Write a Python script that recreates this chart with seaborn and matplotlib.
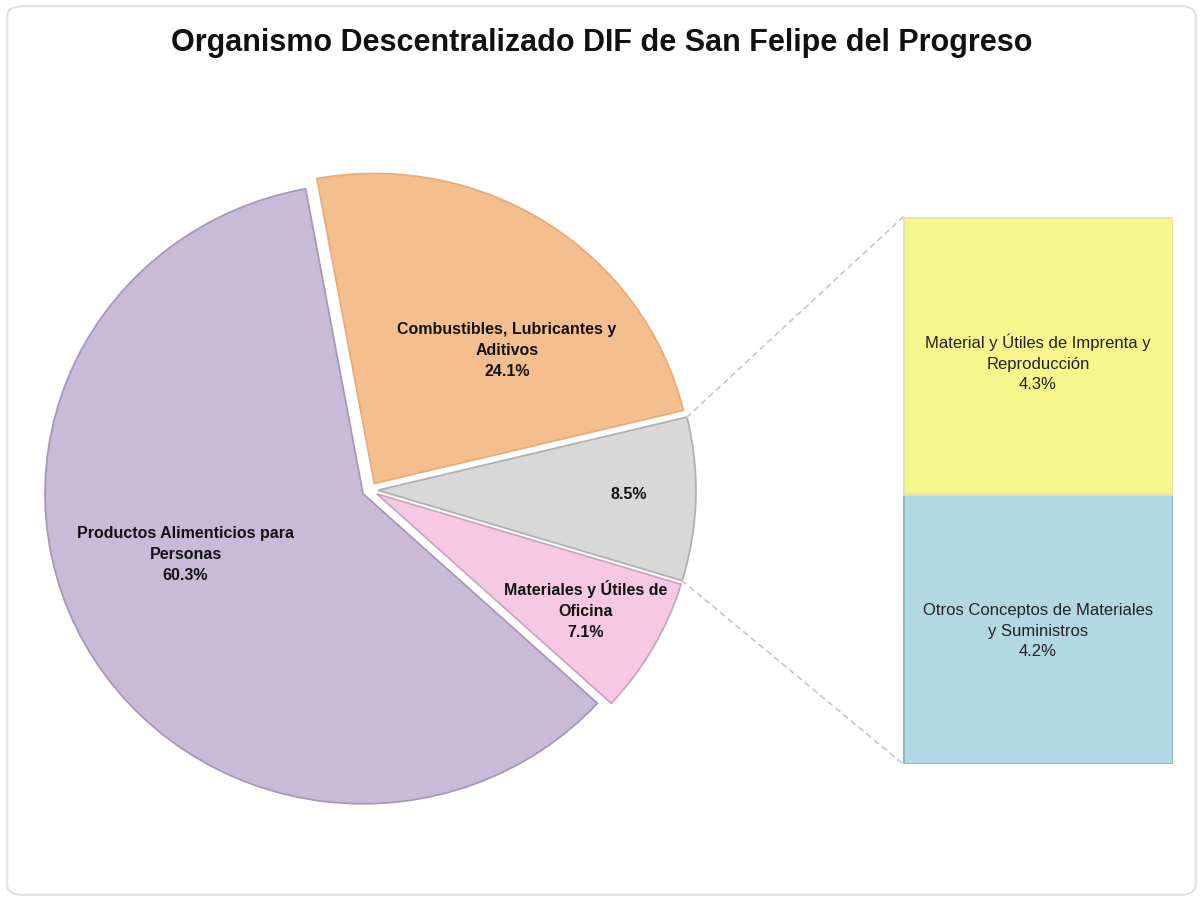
import matplotlib
matplotlib.use("Agg")
import matplotlib.pyplot as plt
import seaborn as sns
import numpy as np
from matplotlib.patches import ConnectionPatch, FancyBboxPatch

# ---------------- data ----------------
title = "Organismo Descentralizado DIF de San Felipe del Progreso"
pie_names = ["Combustibles, Lubricantes y\nAditivos", "", "Materiales y Útiles de\nOficina",
             "Productos Alimenticios para\nPersonas"]
pie_values = [24.1, 8.5, 7.1, 60.3]
bar_names = ["Otros Conceptos de Materiales\ny Suministros", "Material y Útiles de Imprenta y\nReproducción"]
bar_values = [4.2, 4.3]

pie_colors = ["#F5BE8E", "#D8D8D8", "#F6C8E3", "#C9BAD8"]
pie_edges = ["#E9AC78", "#B0B0B0", "#C9A6C0", "#A898B8"]
bar_colors = ["#B2D9E3", "#F6F68C"]
bar_edges = ["#8DB6C4", "#E6E6A0"]

sns.set_theme(style="white")
plt.rcParams['font.family'] = ['Liberation Sans Narrow', 'Liberation Sans', 'DejaVu Sans']

W, H = 1203, 903
fig = plt.figure(figsize=(W / 100, H / 100), dpi=100)
fig.patch.set_facecolor("white")

# ---------------- pie ----------------
cx, cy, Rx, Ry = 370, 491, 318, 310
lim = 1.12
ax = fig.add_axes([(cx - lim * Rx) / W, 1 - (cy + lim * Ry) / H, 2 * lim * Rx / W, 2 * lim * Ry / H])
wedges, _ = ax.pie(pie_values, colors=pie_colors, startangle=100.4, counterclock=False,
                   explode=[0.025] * len(pie_values), radius=1,
                   wedgeprops=dict(linewidth=1.3))
for w, e in zip(wedges, pie_edges):
    w.set_edgecolor(e)
ax.set_aspect("auto")
ax.set_xlim(-lim, lim)
ax.set_ylim(-lim, lim)
ax.axis("off")

# labels at (radius, angle offset) relative to each wedge mid-angle
label_r = [0.60, 0.79, 0.755, 0.59]
label_da = [-11, 1, 0.3, -10]
for w, name, v, r, da in zip(wedges, pie_names, pie_values, label_r, label_da):
    mid = np.deg2rad((w.theta1 + w.theta2) / 2 + da)
    txt = (name + "\n" if name else "") + f"{v:.1f}%"
    ax.text(w.center[0] + r * np.cos(mid), w.center[1] + r * np.sin(mid), txt,
            ha="center", va="center", fontsize=11.5, fontweight="bold", color="#111111",
            linespacing=1.5)

# ---------------- bar ----------------
bx0, bx1, by0, by1 = 903, 1173, 218, 765
axb = fig.add_axes([bx0 / W, 1 - by1 / H, (bx1 - bx0) / W, (by1 - by0) / H])
bottom = 0.0
for i, (v, c, e, name) in enumerate(zip(bar_values, bar_colors, bar_edges, bar_names)):
    axb.bar(0, v, width=1, bottom=bottom, color=c, edgecolor=e, linewidth=2)
    off = -0.1 if i == len(bar_values) - 1 else -0.02
    axb.text(0, bottom + v / 2 + off, f"{name}\n{v:.1f}%",
             ha="center", va="center", fontsize=12, color="#222222", linespacing=1.45)
    bottom += v
axb.set_xlim(-0.5, 0.5)
axb.set_ylim(0, bottom)
axb.axis("off")

# ---------------- connectors ----------------
gw = wedges[1]
for ang, ybar in [(gw.theta1, 0.0), (gw.theta2, bottom)]:
    a = np.deg2rad(ang)
    p = (gw.center[0] + np.cos(a), gw.center[1] + np.sin(a))
    con = ConnectionPatch(xyA=p, coordsA=ax.transData, xyB=(-0.5, ybar), coordsB=axb.transData,
                          color="#C8C8C8", linestyle=(0, (3, 3)), linewidth=1.2)
    fig.add_artist(con)

# ---------------- title & frame ----------------
fig.text(0.5, 1 - 43 / H, title, ha="center", va="center", fontsize=22, fontweight="bold",
         family=["Liberation Sans", "DejaVu Sans"], color="#111111")
fig.add_artist(FancyBboxPatch((0.006, 0.008), 0.988, 0.984,
                              boxstyle="round,pad=0,rounding_size=0.012",
                              transform=fig.transFigure, fc="none", ec="#E0E0E0", lw=1.5))

fig.savefig("out.png", dpi=100, facecolor="white")
